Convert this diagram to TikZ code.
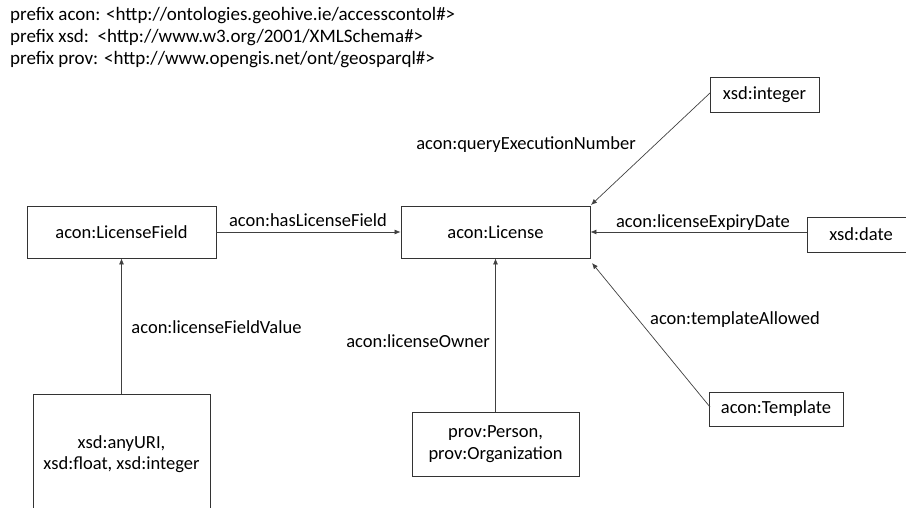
\documentclass[tikz,border=0pt]{standalone}
\usepackage{fontspec}
\setmainfont{Carlito}
\usetikzlibrary{arrows.meta}
\begin{document}
\begin{tikzpicture}[x=1pt,y=-1pt,
  box/.style={draw=black!80, line width=0.8pt, inner sep=0pt, align=center, font=\fontsize{18.5}{21.5}\selectfont},
  lbl/.style={font=\fontsize{18.5}{22}\selectfont, inner sep=0pt},
  conn/.style={draw=black!75, line width=0.7pt, -{Latex[length=6pt,width=5pt]}}]
\useasboundingbox (0,0) rectangle (906,508);
\begin{scope}
\clip (0,0) rectangle (906,508);
\node[lbl, anchor=west, align=left, font=\fontsize{19}{22}\selectfont] (pref) at (10,37.5) {prefix acon: <http://ontologies.geohive.ie/accesscontol\#>\\prefix xsd:\ \ <http://www.w3.org/2001/XMLSchema\#>\\prefix prov: <http://www.opengis.net/ont/geosparql\#>};
\node[box, minimum width=189pt, minimum height=52pt] (lf) at (121.5,232) {acon:LicenseField};
\node[box, minimum width=189pt, minimum height=52pt] (lic) at (495.5,232) {acon:License};
\node[box, minimum width=109pt, minimum height=35pt] (int) at (764.5,94.5) {xsd:integer};
\node[box, minimum width=108pt, minimum height=35pt] (date) at (861,234.5) {xsd:date};
\node[box, minimum width=134pt, minimum height=34pt] (tmpl) at (776,409) {acon:Template};
\node[box, minimum width=177pt, minimum height=120pt] (vals) at (121.5,454) {xsd:anyURI,\\xsd:float, xsd:integer};
\node[box, minimum width=167pt, minimum height=64pt] (prov) at (495.5,444) {prov:Person,\\prov:Organization};
\coordinate (licTR) at (591,205);
\coordinate (licBR) at (592,263);
\coordinate (intL) at (710,93);
\coordinate (tmplL) at (710,407);
\draw[conn] (lf.east) -- (lic.west);
\draw[conn] (vals.north) -- (lf.south);
\draw[conn] (prov.north) -- (lic.south);
\draw[conn] (intL) -- (licTR);
\draw[conn] (date.west |- lic.east) -- (lic.east);
\draw[conn] (tmplL) -- (licBR);
\node[lbl] (l1) at (308,220) {acon:hasLicenseField};
\node[lbl] (l2) at (216.5,327) {acon:licenseFieldValue};
\node[lbl] (l3) at (418,341) {acon:licenseOwner};
\node[lbl] (l4) at (526,145) {acon:queryExecutionNumber};
\node[lbl] (l5) at (703,223) {acon:licenseExpiryDate};
\node[lbl] (l6) at (735,320) {acon:templateAllowed};
\end{scope}
\end{tikzpicture}
\end{document}
